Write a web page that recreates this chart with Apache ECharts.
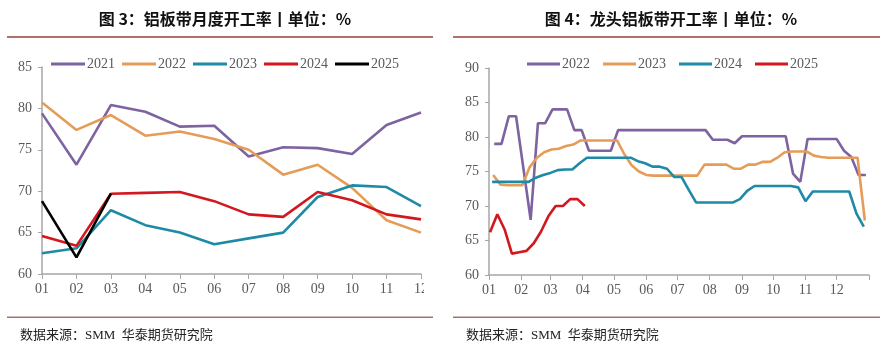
<!DOCTYPE html>
<html>
<head>
<meta charset="utf-8">
<script src="https://cdn.jsdelivr.net/npm/echarts@6/dist/echarts.min.js"></script>
<style>
  html, body { margin: 0; padding: 0; background: #fff; }
  #chart { width: 892px; height: 346px; }
</style>
</head>
<body>
<div id="chart"></div>
<script>
// ---- 图 3：铝板带月度开工率 (monthly, %) ----
const months = ['01', '02', '03', '04', '05', '06', '07', '08', '09', '10', '11', '12'];
const m2021 = [79.4, 73.2, 80.4, 79.6, 77.8, 77.9, 74.2, 75.3, 75.2, 74.5, 78.0, 79.5];
const m2022 = [80.7, 77.4, 79.2, 76.7, 77.2, 76.3, 75.0, 72.0, 73.2, 70.4, 66.5, 65.0];
const m2023 = [62.5, 63.1, 67.7, 65.9, 65.0, 63.6, 64.3, 65.0, 69.3, 70.7, 70.5, 68.2];
const m2024 = [64.6, 63.4, 69.7, 69.8, 69.9, 68.8, 67.2, 66.9, 69.9, 68.9, 67.2, 66.6];
const m2025 = [68.8, 62.0, 69.7];

// ---- 图 4：龙头铝板带开工率 (weekly, %) ----
const firstWeek2022 = '01-06';
const firstWeek2023 = '01-05';
const firstWeek2024 = '01-04';
const firstWeek2025 = '01-02';
const w2022 = [79, 79, 83, 83, 75.5, 68, 82, 82, 84, 84, 84, 81, 81, 78, 78, 78, 78,
  81, 81, 81, 81, 81, 81, 81, 81, 81, 81, 81, 81, 81,
  79.6, 79.6, 79.6, 79.1, 80.1, 80.1, 80.1, 80.1, 80.1, 80.1, 80.1,
  74.7, 73.5, 79.7, 79.7, 79.7, 79.7, 79.7, 78.0, 77.1, 74.5, 74.5];
const w2023 = [74.5, 73.1, 73, 73, 73, 75.6, 77.0, 77.8, 78.2, 78.3, 78.7, 78.9, 79.5,
  79.5, 79.5, 79.5, 79.5, 79.5, 77.5, 75.9, 75.0, 74.5, 74.4, 74.4, 74.4, 74.4, 74.4,
  74.4, 74.4, 76.0, 76.0, 76.0, 76.0, 75.4, 75.4, 76.0, 76.0, 76.4, 76.4, 77.0, 77.8,
  77.9, 77.9, 77.9, 77.3, 77.1, 77.0, 77.0, 77.0, 77.0, 77.0, 67.9];
const w2024 = [73.5, 73.5, 73.5, 73.5, 73.5, 73.5, 74.1, 74.5, 74.8, 75.2, 75.3, 75.3,
  76.2, 77.0, 77.0, 77.0, 77.0, 77.0, 77.0, 77.0, 76.5, 76.2, 75.7, 75.7, 75.4, 74.2,
  74.2, 72.3, 70.5, 70.5, 70.5, 70.5, 70.5, 70.5, 71.0, 72.2, 72.9, 72.9, 72.9, 72.9,
  72.9, 72.9, 72.7, 70.7, 72.1, 72.1, 72.1, 72.1, 72.1, 72.1, 68.9, 67.0];
const w2025 = [66.2, 68.8, 66.6, 63.1, 63.3, 63.5, 64.6, 66.3, 68.5, 70.0, 70.0, 71.0, 71.0, 70.0];

const titleLeft = '图 3：铝板带月度开工率丨单位：%';
const titleRight = '图 4：龙头铝板带开工率丨单位：%';
const sourceText = '数据来源：SMM  华泰期货研究院';

// Day-of-year axis for the weekly chart (365 days plus the closing tick)
const monthDays = [31, 28, 31, 30, 31, 30, 31, 31, 30, 31, 30, 31];
const monthStart = [];
let acc = 0;
monthDays.forEach(d => { monthStart.push(acc); acc += d; });
const dayCats = [];
for (let i = 0; i <= 365; i++) dayCats.push(String(i));
const startSet = new Set(monthStart);
function dayIndex(mmdd) {
  const [m, d] = mmdd.split('-').map(Number);
  return monthStart[m - 1] + d - 1;
}
function weekly(first, values) {
  const d0 = dayIndex(first);
  return values.map((v, i) => [d0 + 7 * i, v]);
}
function monthOf(idx) {
  return months[monthStart.indexOf(idx)];
}

const gray = '#595959';
const axisGray = '#a6a6a6';
const ruleColor = '#b0706a';
const latin = '"Liberation Serif", "Noto Sans CJK SC", serif';
const colors = {
  purple: '#7d63a0',
  orange: '#e59c58',
  teal: '#1e8aa6',
  red: '#d3171f',
  black: '#000000'
};

function line(name, color, xi, yi, data) {
  return {
    name, type: 'line', xAxisIndex: xi, yAxisIndex: yi, data,
    symbol: 'none', smooth: false,
    lineStyle: { color, width: 2.6 },
    itemStyle: { color },
    emphasis: { disabled: true }
  };
}

const chart = echarts.init(document.getElementById('chart'), null, { renderer: 'canvas' });

const yAxisCommon = {
  type: 'value', interval: 5,
  axisLine: { show: true, lineStyle: { color: axisGray, width: 1.5 } },
  axisTick: { show: true, length: 4, lineStyle: { color: axisGray } },
  axisLabel: { color: gray, fontFamily: latin, fontSize: 14, margin: 10 },
  splitLine: { show: false }
};

const option = {
  animation: false,
  textStyle: { fontFamily: latin },
  title: [
    { text: titleLeft, left: 220, top: 6, textAlign: 'center',
      textStyle: { fontSize: 16, fontWeight: 'bold', color: '#111', fontFamily: '"Noto Sans CJK SC", sans-serif' } },
    { text: titleRight, left: 666, top: 6, textAlign: 'center',
      textStyle: { fontSize: 16, fontWeight: 'bold', color: '#111', fontFamily: '"Noto Sans CJK SC", sans-serif' } },
    { text: sourceText, left: 15, top: 324,
      textStyle: { fontSize: 13, fontWeight: 'normal', color: '#222', fontFamily: latin } },
    { text: sourceText, left: 461, top: 324,
      textStyle: { fontSize: 13, fontWeight: 'normal', color: '#222', fontFamily: latin } }
  ],
  legend: [
    {
      data: ['L2021', 'L2022', 'L2023', 'L2024', 'L2025'],
      left: 46, top: 52, icon: 'rect', itemWidth: 34, itemHeight: 3, itemGap: 7,
      formatter: n => n.slice(1),
      textStyle: { color: gray, fontFamily: latin, fontSize: 14, padding: [0, 0, 0, -3] }
    },
    {
      data: ['R2022', 'R2023', 'R2024', 'R2025'],
      left: 522, top: 52, icon: 'rect', itemWidth: 33, itemHeight: 3, itemGap: 13,
      formatter: n => n.slice(1),
      textStyle: { color: gray, fontFamily: latin, fontSize: 14, padding: [0, 0, 0, -3] }
    }
  ],
  grid: [
    { left: 42, right: 471, top: 67, bottom: 72 },
    { left: 489, right: 23, top: 68, bottom: 71 }
  ],
  xAxis: [
    {
      type: 'category', gridIndex: 0, data: months, boundaryGap: false,
      axisLine: { lineStyle: { color: axisGray, width: 1.5 } },
      axisTick: { length: 5, lineStyle: { color: axisGray } },
      axisLabel: { color: gray, fontFamily: latin, fontSize: 14, margin: 8, interval: 0 }
    },
    {
      type: 'category', gridIndex: 1, data: dayCats, boundaryGap: false,
      axisLine: { lineStyle: { color: axisGray, width: 1.5 } },
      axisTick: { length: 5, lineStyle: { color: axisGray },
        interval: i => startSet.has(i) || i === 365 },
      axisLabel: { color: gray, fontFamily: latin, fontSize: 14, margin: 8,
        interval: i => startSet.has(i),
        formatter: (v, i) => monthOf(i) || '' }
    }
  ],
  yAxis: [
    Object.assign({}, yAxisCommon, { gridIndex: 0, min: 60, max: 85 }),
    Object.assign({}, yAxisCommon, { gridIndex: 1, min: 60, max: 90 })
  ],
  series: [
    line('L2021', colors.purple, 0, 0, m2021),
    line('L2022', colors.orange, 0, 0, m2022),
    line('L2023', colors.teal, 0, 0, m2023),
    line('L2024', colors.red, 0, 0, m2024),
    line('L2025', colors.black, 0, 0, m2025),
    line('R2022', colors.purple, 1, 1, weekly(firstWeek2022, w2022)),
    line('R2023', colors.orange, 1, 1, weekly(firstWeek2023, w2023)),
    line('R2024', colors.teal, 1, 1, weekly(firstWeek2024, w2024)),
    line('R2025', colors.red, 1, 1, weekly(firstWeek2025, w2025))
  ],
  graphic: [
    // header and footer rules of both panels
    { type: 'rect', shape: { x: 7, y: 36, width: 426, height: 2 }, style: { fill: ruleColor }, silent: true },
    { type: 'rect', shape: { x: 453, y: 36, width: 427, height: 2 }, style: { fill: ruleColor }, silent: true },
    { type: 'rect', shape: { x: 7, y: 316.5, width: 426, height: 1.5 }, style: { fill: ruleColor }, silent: true },
    { type: 'rect', shape: { x: 453, y: 316.5, width: 427, height: 1.5 }, style: { fill: ruleColor }, silent: true },
    // left panel ends here; its last month label is cut at the panel border
    { type: 'rect', shape: { x: 424, y: 278, width: 22, height: 24 }, style: { fill: '#fff' }, z: 100, silent: true }
  ]
};

chart.setOption(option);
</script>
</body>
</html>
